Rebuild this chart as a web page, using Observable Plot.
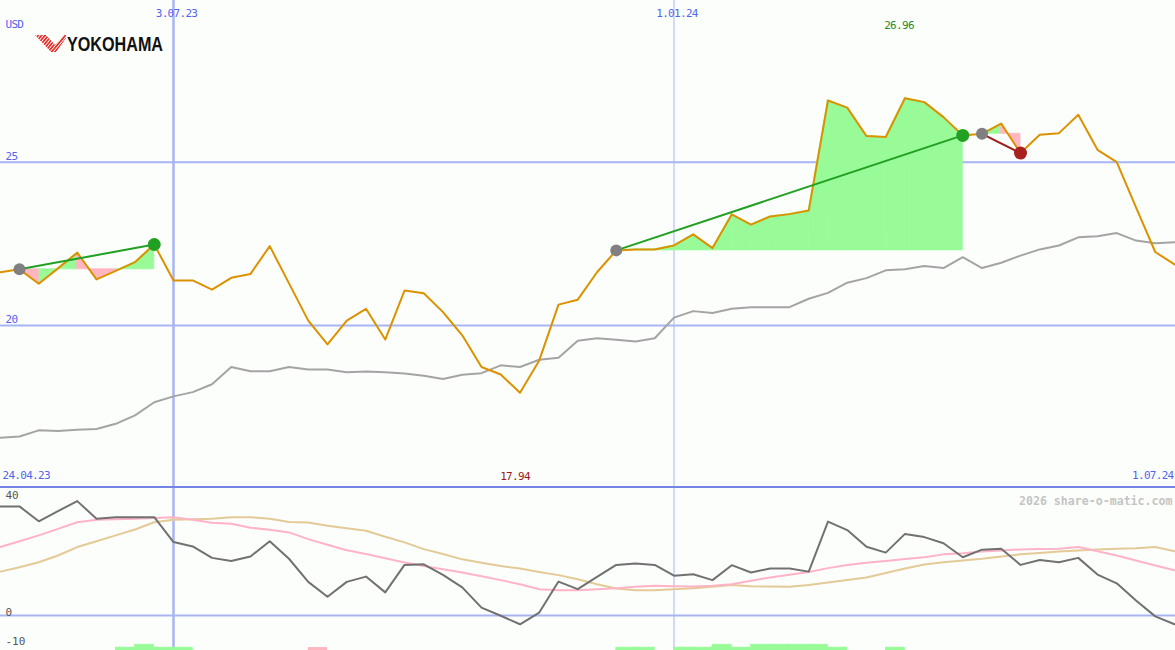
<!DOCTYPE html>
<html>
<head>
<meta charset="utf-8">
<script src="https://cdn.jsdelivr.net/npm/d3@7"></script>
<script src="https://cdn.jsdelivr.net/npm/@observablehq/plot@0.6"></script>
<style>
  html, body { margin: 0; padding: 0; background: #fcfefc; }
  #chart { position: relative; width: 1175px; height: 650px; overflow: hidden; background: #fcfefc; }
  #main { position: absolute; left: 0; top: 0; }
  #sep { position: absolute; left: 0; top: 486px; width: 1175px; height: 2px; background: #7585e6; }
  #sub { position: absolute; left: 0; top: 488px; }
  #logo { position: absolute; left: 35px; top: 34px; }
</style>
</head>
<body>
<div id="chart">
  <div id="main"></div>
  <div id="sub"></div>
  <div id="sep"></div>
  <svg id="logo" width="150" height="22" viewBox="0 0 150 22">
    <defs>
      <pattern id="stripes" width="2.6" height="2.6" patternUnits="userSpaceOnUse" patternTransform="rotate(40)">
        <rect width="1.6" height="2.6" fill="#e3211c"></rect>
      </pattern>
    </defs>
    <polygon points="0,1 11,1 20,11 29,1 31,1 31,4 21,18 16,18" fill="url(#stripes)"></polygon>
    <text x="32" y="17" font-family="Liberation Sans, Arial, sans-serif" font-weight="bold" font-size="20" textLength="96" lengthAdjust="spacingAndGlyphs" fill="#111">YOKOHAMA</text>
  </svg>
</div>
<script>
// ---------------- data (weekly, first week 2023-05-01) ----------------
const firstWeek = "2023-05-01";
const price = [21.63,21.72,21.28,21.75,22.23,21.41,21.67,21.94,22.48,21.38,
               21.38,21.10,21.46,21.58,22.43,21.29,20.15,19.42,20.15,20.51,
               19.57,21.07,20.99,20.41,19.70,18.73,18.50,17.94,18.93,20.64,
               20.79,21.63,22.30,22.33,22.33,22.45,22.79,22.37,23.40,23.09,
               23.34,23.41,23.52,26.89,26.67,25.80,25.77,26.96,26.84,26.38,
               25.82,25.87,26.18,25.28,25.84,25.89,26.45,25.38,25.00,23.62,
               22.25,21.87];
const benchmark = [16.56,16.60,16.79,16.77,16.81,16.83,16.99,17.25,17.65,17.83,
                   17.96,18.20,18.73,18.60,18.60,18.73,18.65,18.65,18.57,18.59,
                   18.57,18.53,18.46,18.36,18.49,18.54,18.78,18.73,18.95,19.01,
                   19.53,19.61,19.56,19.51,19.61,20.24,20.44,20.38,20.51,20.56,
                   20.56,20.56,20.82,21.00,21.31,21.45,21.69,21.72,21.82,21.76,
                   22.09,21.76,21.92,22.14,22.33,22.45,22.70,22.73,22.83,22.60,
                   22.52,22.55];
const momentum = [37.3,37.3,32.2,35.7,39.1,33.1,33.6,33.6,33.6,25.1,
                  23.6,19.7,18.6,20.2,25.4,19.4,11.5,6.4,11.5,13.3,
                  7.9,17.3,17.5,13.9,9.6,2.7,-0.1,-3.0,1.0,11.6,
                  9.0,13.2,17.3,17.8,17.3,13.6,14.1,12.1,17.2,14.7,
                  16.1,16.1,15.0,32.1,29.2,23.5,21.5,27.9,26.8,24.7,
                  19.9,22.5,22.8,17.3,19.0,18.2,19.7,14.0,11.0,5.1,
                  -0.3,-3.0];
const avgFast = [23.4,25.4,27.4,29.6,31.9,32.7,32.9,33.1,33.3,33.6,
                 32.7,31.7,31.4,30.0,29.3,28.4,26.1,24.2,22.3,21.0,
                 19.6,18.1,16.9,15.8,14.7,13.4,12.1,10.7,9.0,8.6,
                 8.6,9.0,9.3,9.8,10.2,10.0,9.9,10.2,10.7,11.9,
                 13.0,13.9,14.9,16.2,17.3,18.0,18.6,19.3,19.9,20.9,
                 21.3,21.9,22.2,22.6,22.7,22.8,23.4,22.0,20.5,18.8,
                 17.1,15.5];
const avgSlow = [15.0,16.5,18.2,20.5,23.4,25.4,27.4,29.4,31.9,32.7,
                 32.9,33.1,33.6,33.6,33.1,32.0,31.8,30.7,29.8,29.0,
                 26.9,25.0,22.7,21.0,19.2,18.0,16.9,16.1,14.9,13.8,
                 12.4,10.7,9.2,8.6,8.6,9.0,9.3,9.8,10.4,10.0,
                 9.9,9.8,10.4,11.3,12.1,13.0,14.5,16.1,17.4,18.2,
                 18.8,19.4,20.2,20.9,21.4,21.9,22.2,22.6,22.8,23.0,
                 23.4,22.0];
// signals (week index of entry and exit)
const signalStart = [1, 32, 51];
const signalEnd = [8, 50, 53];
// small histogram at the bottom of the lower panel
const barWeek  = [6, 7, 8, 9, 16, 32, 33, 35, 36, 37, 38, 39, 40, 41, 42, 43, 46];
const barValue = [1, 2, 1, 1, 1, 1, 1, 1, 1, 2, 1, 2, 2, 2, 2, 1, 1];
const barSign  = ["up","up","up","up","down","up","up","up","up","up","up","up","up","up","up","up","up"];
// axes
const dateTicks = ["2023-07-03", "2024-01-01"];
const dateTickLabels = ["3.07.23", "1.01.24"];
const priceTicks = [25, 20];
const subTicks = [40, 0, -10];
const rangeLabels = ["24.04.23", "1.07.24"];
const currency = "USD";
const credit = "2026 share-o-matic.com";

// ---------------- layout / scales ----------------
const W = 1175, mainH = 486, subH = 162;
const day = 864e5;
const d0 = new Date(firstWeek);
const pxPerWeek = 19.25, firstX = -0.25;
const pxPerMs = pxPerWeek / (7 * day);
const xDomain = [new Date(+d0 - firstX / pxPerMs), new Date(+d0 + (W - firstX) / pxPerMs)];
const xScale = {type: "utc", domain: xDomain, range: [0, W]};
const pxPerUnit = (325 - 161.7) / 5;
const yMain = {domain: [25 - (mainH - 161.7) / pxPerUnit, 25 + 161.7 / pxPerUnit], range: [mainH, 0]};
const subPx = 2.925, zeroPx = 615 - 488;
const ySubDomain = [-(subH - zeroPx) / subPx, zeroPx / subPx];
const ySub = {domain: ySubDomain, range: [subH, 0]};

const dates = price.map((_, i) => d3.utcDay.offset(d0, 7 * i));
const rows = price.map((p, i) => ({date: dates[i], price: p, bench: benchmark[i],
  mom: momentum[i], fast: avgFast[i], slow: avgSlow[i]}));

// fill segments between signal entry level and price
const fillSegs = [];
signalStart.forEach((s, j) => {
  const e = signalEnd[j], base = price[s];
  for (let k = s; k < e; k++) {
    const up = price[k + 1] >= base;
    for (const i of [k, k + 1]) fillSegs.push({seg: j + "-" + k, date: dates[i], base, price: price[i], up});
  }
});
const signals = signalStart.map((s, j) => ({
  d1: dates[s], p1: price[s], d2: dates[signalEnd[j]], p2: price[signalEnd[j]],
  win: price[signalEnd[j]] >= price[s]
}));
const iMax = d3.maxIndex(price), iMin = d3.minIndex(price);
const bars = barWeek.map((k, i) => ({x1: dates[k], x2: dates[k + 1], v: barValue[i], up: barSign[i] === "up"}));

const blue = "#5064f0", grid = "#a7b5f3";
const green = "#98fb98", pink = "#ffb6c1";
const font = {fontFamily: "DejaVu Sans Mono, monospace", fontSize: "11px", letterSpacing: "-0.7px", background: "none", overflow: "hidden"};

const main = Plot.plot({
  width: W, height: mainH, margin: 0,
  x: {...xScale, axis: null}, y: {...yMain, axis: null},
  style: font,
  marks: [
    Plot.ruleY(priceTicks, {stroke: grid, strokeWidth: 2}),
    Plot.ruleX(dateTicks, {x: d => new Date(d), stroke: grid, strokeWidth: (d, i) => i === 0 ? 2.5 : 1}),
    Plot.areaY(fillSegs.filter(d => d.up), {x: "date", y1: "base", y2: "price", z: "seg", fill: green, stroke: green, strokeWidth: 0.8}),
    Plot.areaY(fillSegs.filter(d => !d.up), {x: "date", y1: "base", y2: "price", z: "seg", fill: pink, stroke: pink, strokeWidth: 0.8}),
    Plot.line(rows, {x: "date", y: "bench", stroke: "#a4a4a4", strokeWidth: 2}),
    Plot.line(rows, {x: "date", y: "price", stroke: "#dc9200", strokeWidth: 2}),
    Plot.link(signals, {x1: "d1", y1: "p1", x2: "d2", y2: "p2", stroke: d => d.win ? "#22a022" : "#a01c1c", strokeWidth: 2}),
    Plot.dot(signals, {x: "d1", y: "p1", r: 6, fill: "#808080"}),
    Plot.dot(signals, {x: "d2", y: "p2", r: 6.5, fill: d => d.win ? "#22a022" : "#a82020"}),
    Plot.text(priceTicks, {x: xDomain[0], y: d => d, text: d => String(d), textAnchor: "start", dx: 5, dy: -6, fill: blue}),
    Plot.text(dateTicks, {x: d => new Date(d), text: (d, i) => dateTickLabels[i], frameAnchor: "top", dy: 9, dx: 3, fill: blue}),
    Plot.text([currency], {frameAnchor: "top-left", text: d => d, dx: 5, dy: 20, textAnchor: "start", fill: blue}),
    Plot.text([rangeLabels[0]], {frameAnchor: "bottom-left", text: d => d, dx: 2, dy: -8, textAnchor: "start", fill: blue}),
    Plot.text([rangeLabels[1]], {frameAnchor: "bottom-right", text: d => d, dx: -2, dy: -8, textAnchor: "end", fill: blue}),
    Plot.text([iMax], {x: i => dates[i], text: i => price[i].toFixed(2), frameAnchor: "top", dy: 21, dx: -6, fill: "#1f8a1f"}),
    Plot.text([iMin], {x: i => dates[i], text: i => price[i].toFixed(2), frameAnchor: "bottom", dy: -7, dx: -5, fill: "#a01616"})
  ]
});
document.getElementById("main").append(main);

const sub = Plot.plot({
  width: W, height: subH, margin: 0,
  x: {...xScale, axis: null}, y: {...ySub, axis: null},
  style: {...font, letterSpacing: "0px"},
  marks: [
    Plot.ruleY([0], {stroke: grid, strokeWidth: 2}),
    Plot.ruleX(dateTicks, {x: d => new Date(d), stroke: grid, strokeWidth: (d, i) => i === 0 ? 2.5 : 1}),
    Plot.rectY(bars.filter(d => d.up), {x1: "x1", x2: "x2", y1: ySubDomain[0], y2: d => ySubDomain[0] + d.v, fill: green, stroke: green, strokeWidth: 0.6}),
    Plot.rectY(bars.filter(d => !d.up), {x1: "x1", x2: "x2", y1: ySubDomain[0], y2: d => ySubDomain[0] + d.v, fill: pink}),
    Plot.line(rows, {x: "date", y: "slow", stroke: "#e3ca96", strokeWidth: 2}),
    Plot.line(rows, {x: "date", y: "fast", stroke: "#ffb3c6", strokeWidth: 2}),
    Plot.line(rows, {x: "date", y: "mom", stroke: "#717171", strokeWidth: 2}),
    Plot.text(subTicks, {x: xDomain[0], y: d => d, text: d => String(d), textAnchor: "start", dx: 5, dy: -3, fill: "#555"}),
    Plot.text([credit], {frameAnchor: "top-right", text: d => d, dx: -3, dy: 8, textAnchor: "end", fill: "#c4c4c4", fontSize: 11.6, fontWeight: "bold"})
  ]
});
document.getElementById("sub").append(sub);
</script>
</body>
</html>
